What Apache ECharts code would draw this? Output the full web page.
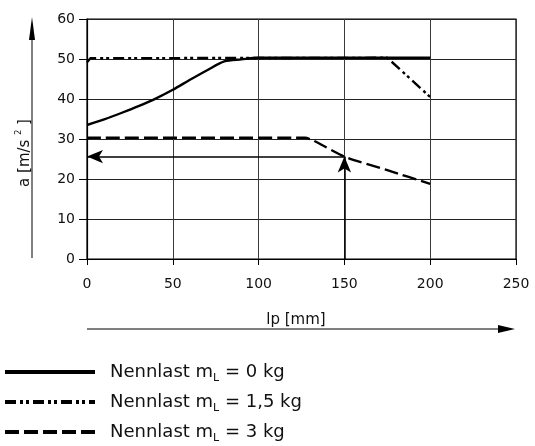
<!DOCTYPE html>
<html>
<head>
<meta charset="utf-8">
<script src="https://cdn.jsdelivr.net/npm/echarts@6/dist/echarts.min.js"></script>
<style>html,body{margin:0;padding:0;background:#fff;}#c{width:535px;height:446px;}</style>
</head>
<body>
<div id="c"></div>
<script>
// ---- data ----
var xTicks = [0, 50, 100, 150, 200, 250];
var yTicks = [0, 10, 20, 30, 40, 50, 60];
var names = ['0', '1,5', '3'];
var x0 = [0, 10, 20, 30, 40, 50, 60, 70, 80, 90, 100, 200];
var y0 = [33.5, 34.9, 36.5, 38.2, 40.1, 42.3, 44.8, 47.2, 49.4, 49.9, 50.3, 50.3];
var x15 = [0, 2, 175, 200];
var y15 = [49.2, 50.2, 50.3, 40.5];
var x3 = [0, 127, 132, 150, 175, 200];
var y3 = [30.3, 30.3, 29.6, 25.6, 22.2, 18.8];
var readX = 150;
var readY = 25.6;

function pairs(xs, ys) { return xs.map(function (x, i) { return [x, ys[i]]; }); }

var FONT = 'DejaVu Sans';
var chart = echarts.init(document.getElementById('c'));
var legendNames = names.map(function (n) { return 'Nennlast mL = ' + n + ' kg'; });

chart.setOption({
  animation: false,
  backgroundColor: '#fff',
  grid: { left: 87, right: 19, top: 19, bottom: 187, show: true, borderColor: '#000', borderWidth: 1.2 },
  xAxis: {
    type: 'value', min: xTicks[0], max: xTicks[xTicks.length - 1], interval: 50,
    axisLine: { lineStyle: { color: '#000', width: 1.2 } },
    axisTick: { show: true, length: 6, lineStyle: { color: '#000' } },
    axisLabel: { color: '#111', fontSize: 14, fontFamily: FONT, margin: 18 },
    splitLine: { show: true, lineStyle: { color: '#3a3a3a', width: 1 } }
  },
  yAxis: {
    type: 'value', min: yTicks[0], max: yTicks[yTicks.length - 1], interval: 10,
    axisLine: { show: true, lineStyle: { color: '#000', width: 1.2 } },
    axisTick: { show: true, length: 8, lineStyle: { color: '#000' } },
    axisLabel: { color: '#111', fontSize: 14, fontFamily: FONT, margin: 12 },
    splitLine: { show: true, lineStyle: { color: '#222', width: 1 } }
  },
  legend: {
    orient: 'vertical', left: 3, top: 363, padding: 0, itemWidth: 90, itemHeight: 14, itemGap: 9,
    data: legendNames,
    lineStyle: { width: 4 },
    itemStyle: { opacity: 0 },
    formatter: function (name) {
      var parts = name.split('mL');
      return '{a|' + parts[0] + 'm}{s|L}{a|' + parts[1] + '}';
    },
    textStyle: {
      padding: [0, 0, 0, 10],
      rich: {
        a: { fontSize: 18, fontFamily: FONT, color: '#111', lineHeight: 24 },
        s: { fontSize: 11, fontFamily: FONT, color: '#111', lineHeight: 11, verticalAlign: 'bottom' }
      }
    }
  },
  series: [
    {
      name: legendNames[0], type: 'line', data: pairs(x0, y0), symbol: 'none', smooth: 0.3,
      itemStyle: { color: '#000' },
      lineStyle: { color: '#000', width: 2.4, type: 'solid' }, z: 3
    },
    {
      name: legendNames[1], type: 'line', data: pairs(x15, y15), symbol: 'none',
      itemStyle: { color: '#000' },
      lineStyle: { color: '#000', width: 2.4, type: [11, 4, 3, 3, 3, 4] }, z: 3
    },
    {
      name: legendNames[2], type: 'line', data: pairs(x3, y3), symbol: 'none', smooth: 0.2,
      itemStyle: { color: '#000' },
      lineStyle: { color: '#000', width: 2.4, type: [14, 5] }, z: 3,
      markLine: {
        silent: true, symbol: ['none', 'arrow'], symbolSize: [10, 16],
        label: { show: false },
        lineStyle: { color: '#000', width: 1.5, type: 'solid' },
        data: [
          [{ coord: [readX, 0] }, { coord: [readX, readY] }],
          [{ coord: [readX, readY] }, { coord: [0, readY] }]
        ]
      }
    }
  ],
  graphic: [
    { type: 'line', shape: { x1: 32, y1: 258, x2: 32, y2: 30 }, style: { stroke: '#000', lineWidth: 1 } },
    { type: 'polygon', shape: { points: [[32, 17], [29, 40], [35, 40]] }, style: { fill: '#000' } },
    { type: 'line', shape: { x1: 87, y1: 329, x2: 505, y2: 329 }, style: { stroke: '#000', lineWidth: 1 } },
    { type: 'polygon', shape: { points: [[515, 329], [498, 325], [498, 333]] }, style: { fill: '#000' } },
    {
      type: 'text', x: 25, y: 153, rotation: Math.PI / 2,
      style: {
        text: '{n|a [m/s }{p|2}{n| ]}', align: 'center', verticalAlign: 'middle',
        rich: {
          n: { fontSize: 15, fontFamily: FONT, fill: '#111', lineHeight: 20 },
          p: { fontSize: 8, fontFamily: FONT, fill: '#111', lineHeight: 8, verticalAlign: 'top' }
        }
      }
    },
    {
      type: 'text', x: 296, y: 320,
      style: { text: 'lp [mm]', font: '15px "' + FONT + '"', fill: '#111', align: 'center', verticalAlign: 'middle' }
    }
  ]
});
</script>
</body>
</html>
